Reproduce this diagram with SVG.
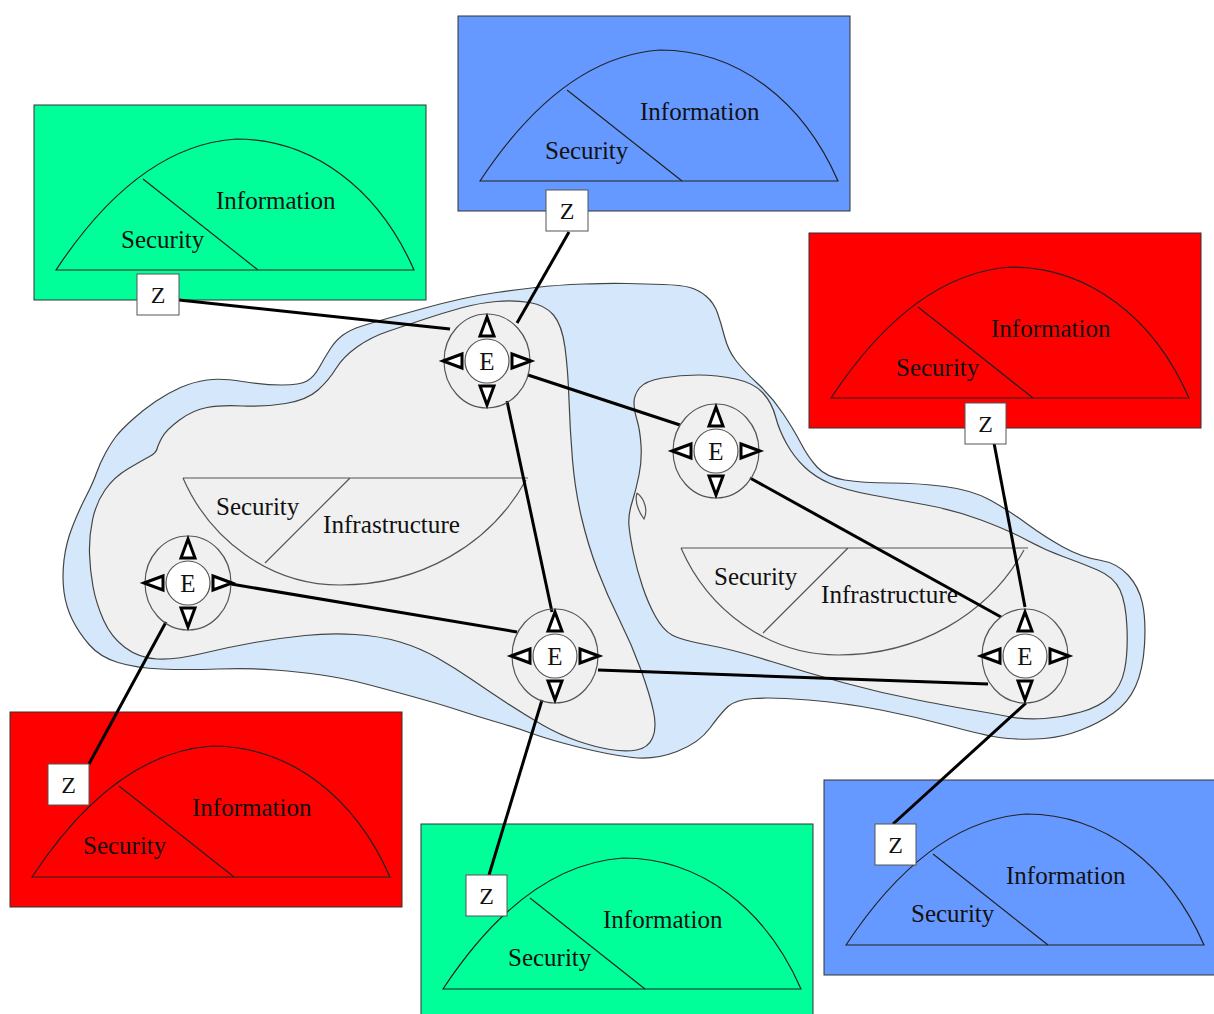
<svg xmlns="http://www.w3.org/2000/svg" width="1214" height="1014" viewBox="0 0 1214 1014">
<style>
.cloud{fill:#D5E8FB;stroke:#444;stroke-width:1.2}
.blob{fill:#F0F0F0;stroke:#444;stroke-width:1.2}
.infra{fill:none;stroke:#555;stroke-width:1.2}
.box{stroke:#333;stroke-width:1}
.green{fill:#00FF99}
.blue{fill:#6699FF}
.red{fill:#FF0000}
.arc{fill:none;stroke:#222;stroke-width:1.2}
.lbl{font-family:"Liberation Serif","Times New Roman",serif;font-size:25px;fill:#111}
.conn{stroke:#000;stroke-width:3;fill:none}
.zbox{fill:#fff;stroke:#555;stroke-width:1}
.zt{font-family:"Liberation Serif","Times New Roman",serif;font-size:24px;fill:#111;text-anchor:middle}
.ering{fill:none;stroke:#555;stroke-width:1.2}
.ecore{fill:#fff;stroke:#555;stroke-width:1.2}
.tri{fill:#fff;stroke:#000;stroke-width:3;stroke-linejoin:miter}
.et{font-family:"Liberation Serif","Times New Roman",serif;font-size:25px;fill:#111;text-anchor:middle}
</style>
<defs>
<g id="eglyph">
<ellipse class="ering" cx="0" cy="0" rx="43" ry="47"/>
<circle class="ecore" cx="0" cy="0" r="22"/>
<polygon class="tri" points="0,-44 -7,-25 7,-25"/>
<polygon class="tri" points="0,44 -7,25 7,25"/>
<polygon class="tri" points="44,0 25,-7 25,7"/>
<polygon class="tri" points="-44,0 -25,-7 -25,7"/>
</g>
</defs>

<g id="cloud">
<path class="cloud" d="M64,592 Q62,577 64,560 Q66,543 72.5,526.5 Q79,510 86,496.5 Q93,483 96.5,473 Q100,463 105.5,453 Q111,443 116,436.5 Q121,430 132,420 Q143,410 155.5,401.5 Q168,393 180.5,387.5 Q193,382 207,380 Q221,378 242.5,381.5 Q264,385 282,385 Q300,385 307,381 Q314,377 319.5,367 Q325,357 330.5,348.5 Q336,340 343,335 Q350,330 360.5,326.5 Q371,323 389,318 Q407,313 425,308 Q443,303 461,299 Q479,295 496.5,292.5 Q514,290 535.5,287.5 Q557,285 583.5,284 Q610,283 627.5,283.5 Q645,284 663,284.5 Q681,285 690,287.5 Q699,290 706.5,296.5 Q714,303 717.5,313 Q721,323 724.5,336.5 Q728,350 735.5,360 Q743,370 757.5,383.5 Q772,397 783,413.5 Q794,430 801,443.5 Q808,457 817,467 Q826,477 844.5,480 Q863,483 890,483 Q917,483 944.5,486.5 Q972,490 990,500 Q1008,510 1026.5,523.5 Q1045,537 1063,547 Q1081,557 1099,560 Q1117,563 1128,575 Q1139,587 1142.5,603.5 Q1146,620 1144.5,645 Q1143,670 1135.5,686.5 Q1128,703 1113.5,713 Q1099,723 1081,730 Q1063,737 1044.5,738.5 Q1026,740 1008,738.5 Q990,737 953.5,727 Q917,717 881,710 Q845,703 808.5,700 Q772,697 753.5,698.5 Q735,700 728,706.5 Q721,713 710,728 Q699,743 677,751.5 Q655,760 632.5,757.5 Q610,755 580,747.5 Q550,740 532,733.5 Q514,727 496.5,722 Q479,717 461,711 Q443,705 416,697.5 Q389,690 366,684 Q343,678 321.5,675 Q300,672 275,670 Q250,668 218,669 Q186,670 161,669 Q136,668 118,662.5 Q100,657 89.5,645 Q79,633 72.5,620 Q66,607 64,592 Z"/>
<path class="blob" d="M89.5,553.5 Q89,537 92.5,520 Q96,503 105,490 Q114,477 128.5,468.5 Q143,460 149.5,456.5 Q156,453 157,449 Q158,445 162,437.5 Q166,430 179.5,420 Q193,410 207,407.5 Q221,405 242.5,406 Q264,407 285.5,403.5 Q307,400 318,390 Q329,380 336,368.5 Q343,357 357,347 Q371,337 389,331 Q407,325 425,319 Q443,313 461,308 Q479,303 496.5,301.5 Q514,300 529.5,302.5 Q545,305 553.5,315 Q562,325 565,347.5 Q568,370 569,400 Q570,430 572.5,460 Q575,490 581.5,517.5 Q588,545 597.5,570 Q607,595 619.5,620 Q632,645 641,670 Q650,695 653.5,711.5 Q657,728 652.5,738 Q648,748 636.5,750 Q625,752 610,749.5 Q595,747 577.5,741 Q560,735 542.5,725 Q525,715 507.5,703.5 Q490,692 472.5,680 Q455,668 437.5,658 Q420,648 400,642 Q380,636 355,634.5 Q330,633 305,635.5 Q280,638 254.5,642.5 Q229,647 202,653.5 Q175,660 157,659 Q139,658 125,647.5 Q111,637 103.5,620 Q96,603 93,586.5 Q90,570 89.5,553.5 Z"/>
<path class="blob" d="M634,402.5 Q634,395 639.5,388 Q645,381 662.5,378 Q680,375 698.5,375 Q717,375 735.5,379 Q754,383 763,393 Q772,403 775.5,416.5 Q779,430 786.5,443.5 Q794,457 804.5,467 Q815,477 830,483.5 Q845,490 872,495 Q899,500 926.5,505 Q954,510 981,520 Q1008,530 1026.5,540 Q1045,550 1063,556.5 Q1081,563 1097.5,570 Q1114,577 1120,590 Q1126,603 1127,628 Q1128,653 1124.5,670 Q1121,687 1110,697 Q1099,707 1081,712 Q1063,717 1044.5,718.5 Q1026,720 1008,716.5 Q990,713 972,710 Q954,707 917.5,700 Q881,693 844.5,683 Q808,673 771.5,661.5 Q735,650 708,645 Q681,640 672,635 Q663,630 655.5,616.5 Q648,603 642.5,586.5 Q637,570 633.5,553.5 Q630,537 629,526 Q628,515 632,502.5 Q636,490 639,475 Q642,460 641,445 Q640,430 637,420 Q634,410 634,402.5 Z"/>
<path class="infra" d="M637,493 C645,499 648,511 644,519 C639,512 634,503 637,493"/>
</g>

<g id="infra-left">
<path class="infra" d="M183,478 H528 M183,478 C210,540 270,585 340,585 C420,585 490,545 526,480 M350,478 L265,563"/>
<text class="lbl" x="216" y="515">Security</text>
<text class="lbl" x="323" y="533" textLength="137" lengthAdjust="spacingAndGlyphs">Infrastructure</text>
</g>
<g id="infra-right" transform="translate(498,70)">
<path class="infra" d="M183,478 H530 M183,478 C210,540 270,585 340,585 C420,585 490,545 526,480 M350,478 L265,563"/>
<text class="lbl" x="216" y="515">Security</text>
<text class="lbl" x="323" y="533" textLength="137" lengthAdjust="spacingAndGlyphs">Infrastructure</text>
</g>

<g id="info-green-top" transform="translate(34,105)">
<rect class="box green" x="0" y="0" width="392" height="195"/>
<path class="arc" d="M22,165 C55,115 115,40 202,34 C280,34 345,85 380,165 Z"/>
<line class="arc" x1="109" y1="74" x2="224" y2="165"/>
<text class="lbl" x="182" y="104">Information</text>
<text class="lbl" x="87" y="143">Security</text>
</g>
<g id="info-blue-top" transform="translate(458,16)">
<rect class="box blue" x="0" y="0" width="392" height="195"/>
<path class="arc" d="M22,165 C55,115 115,40 202,34 C280,34 345,85 380,165 Z"/>
<line class="arc" x1="109" y1="74" x2="224" y2="165"/>
<text class="lbl" x="182" y="104">Information</text>
<text class="lbl" x="87" y="143">Security</text>
</g>
<g id="info-red-right" transform="translate(809,233)">
<rect class="box red" x="0" y="0" width="392" height="195"/>
<path class="arc" d="M22,165 C55,115 115,40 202,34 C280,34 345,85 380,165 Z"/>
<line class="arc" x1="109" y1="74" x2="224" y2="165"/>
<text class="lbl" x="182" y="104">Information</text>
<text class="lbl" x="87" y="143">Security</text>
</g>
<g id="info-red-left" transform="translate(10,712)">
<rect class="box red" x="0" y="0" width="392" height="195"/>
<path class="arc" d="M22,165 C55,115 115,40 202,34 C280,34 345,85 380,165 Z"/>
<line class="arc" x1="109" y1="74" x2="224" y2="165"/>
<text class="lbl" x="182" y="104">Information</text>
<text class="lbl" x="73" y="142">Security</text>
</g>
<g id="info-green-bottom" transform="translate(421,824)">
<rect class="box green" x="0" y="0" width="392" height="195"/>
<path class="arc" d="M22,165 C55,115 115,40 202,34 C280,34 345,85 380,165 Z"/>
<line class="arc" x1="109" y1="74" x2="224" y2="165"/>
<text class="lbl" x="182" y="104">Information</text>
<text class="lbl" x="87" y="142">Security</text>
</g>
<g id="info-blue-bottom" transform="translate(824,780)">
<rect class="box blue" x="0" y="0" width="392" height="195"/>
<path class="arc" d="M22,165 C55,115 115,40 202,34 C280,34 345,85 380,165 Z"/>
<line class="arc" x1="109" y1="74" x2="224" y2="165"/>
<text class="lbl" x="182" y="104">Information</text>
<text class="lbl" x="87" y="142">Security</text>
</g>

<g id="connectors">
<line class="conn" x1="179" y1="300" x2="450" y2="329"/>
<line class="conn" x1="569" y1="232" x2="517" y2="323"/>
<line class="conn" x1="528" y1="375" x2="680" y2="425"/>
<line class="conn" x1="507" y1="401" x2="552" y2="612"/>
<line class="conn" x1="231" y1="584" x2="517" y2="632"/>
<line class="conn" x1="166" y1="622" x2="89" y2="764"/>
<line class="conn" x1="542" y1="700" x2="489" y2="875"/>
<line class="conn" x1="598" y1="670" x2="988" y2="684"/>
<line class="conn" x1="750" y1="478" x2="1001" y2="617"/>
<line class="conn" x1="994" y1="443" x2="1025" y2="607"/>
<line class="conn" x1="1026" y1="703" x2="893" y2="824"/>
</g>

<g id="Z1"><rect class="zbox" x="137" y="274" width="42" height="41"/><text class="zt" x="158" y="303">Z</text></g>
<g id="Z2"><rect class="zbox" x="546" y="190" width="42" height="41"/><text class="zt" x="567" y="219">Z</text></g>
<g id="Z3"><rect class="zbox" x="965" y="403" width="41" height="41"/><text class="zt" x="985.5" y="432">Z</text></g>
<g id="Z4"><rect class="zbox" x="48" y="764" width="41" height="41"/><text class="zt" x="68.5" y="793">Z</text></g>
<g id="Z5"><rect class="zbox" x="466" y="875" width="41" height="41"/><text class="zt" x="486.5" y="904">Z</text></g>
<g id="Z6"><rect class="zbox" x="875" y="824" width="41" height="41"/><text class="zt" x="895.5" y="853">Z</text></g>

<g id="E1" transform="translate(487,361)"><use href="#eglyph"/><text class="et" x="0" y="9">E</text></g>
<g id="E2" transform="translate(716,451)"><use href="#eglyph"/><text class="et" x="0" y="9">E</text></g>
<g id="E3" transform="translate(188,583)"><use href="#eglyph"/><text class="et" x="0" y="9">E</text></g>
<g id="E4" transform="translate(555,656)"><use href="#eglyph"/><text class="et" x="0" y="9">E</text></g>
<g id="E5" transform="translate(1025,656)"><use href="#eglyph"/><text class="et" x="0" y="9">E</text></g>
</svg>
